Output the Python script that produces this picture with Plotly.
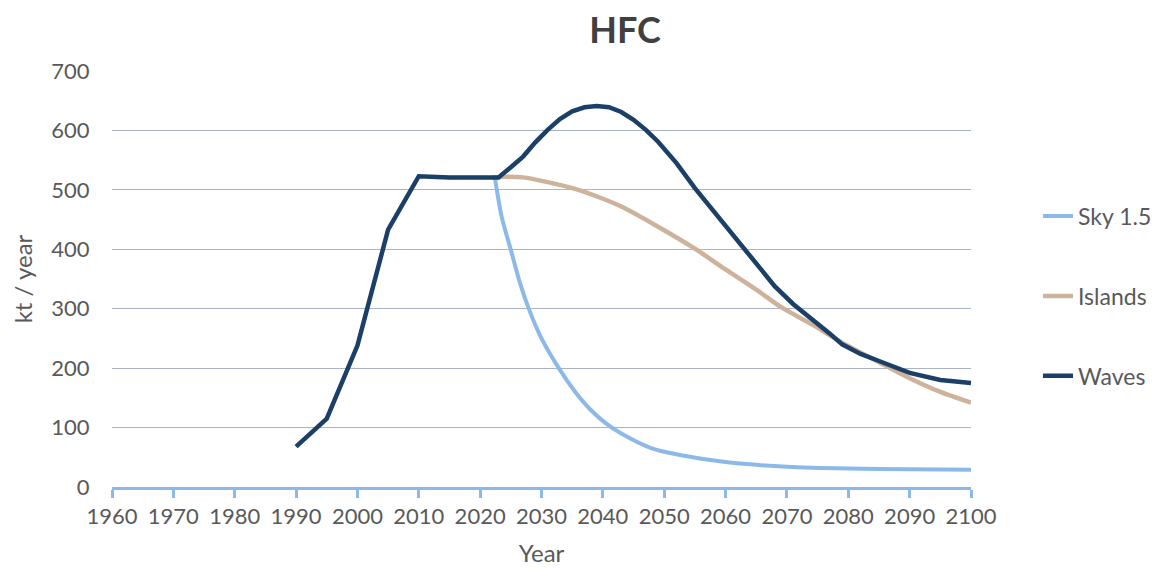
import plotly.graph_objects as go

waves_years = [1990, 1995, 2000, 2005, 2010, 2015, 2020, 2023, 2025, 2027, 2029, 2031, 2033, 2035, 2037, 2039, 2041,
               2043, 2045, 2047, 2049, 2052, 2055, 2059, 2063, 2066, 2068, 2071, 2074, 2077, 2079, 2082, 2085,
               2088, 2090, 2095, 2100]
waves_vals = [68, 115, 238, 433, 523, 521, 521, 521, 538, 556, 580, 601, 619, 632, 639, 641, 639,
              631, 618, 601, 581, 545, 503, 452, 400, 362, 338, 308, 284, 258, 240, 224, 212,
              200, 192, 180, 175]

islands_years = [2022, 2024, 2027, 2031, 2036, 2040, 2043, 2049, 2055, 2060, 2065, 2069, 2074, 2079, 2085,
                 2090, 2095, 2100]
islands_vals = [521, 522, 521, 513, 500, 485, 472, 438, 401, 366, 332, 303, 274, 243, 210,
                183, 160, 142]

sky_years = [2022.4, 2023.5, 2025, 2026.5, 2028, 2030, 2033, 2035.5, 2038, 2040.5, 2043, 2048, 2053, 2060,
             2070, 2080, 2090, 2100]
sky_vals = [521, 455, 399, 343, 298, 250, 197, 160, 130, 107, 90, 65, 53, 42,
            34, 31, 30, 29]

x_ticks = list(range(1960, 2101, 10))

font_family = "Lato, 'Noto Sans', sans-serif"
text_color = "#595959"

fig = go.Figure()
fig.add_trace(go.Scatter(x=sky_years, y=sky_vals, mode="lines", name="Sky 1.5",
                         line=dict(color="#8DB9E8", width=4, shape="spline", smoothing=0.8),
                         legendgroup="a"))
fig.add_trace(go.Scatter(x=islands_years, y=islands_vals, mode="lines", name="Islands",
                         line=dict(color="#CDB39C", width=4.5, shape="spline", smoothing=0.8),
                         legendgroup="b"))
fig.add_trace(go.Scatter(x=waves_years, y=waves_vals, mode="lines", name="Waves",
                         line=dict(color="#1B3F66", width=4.5), legendgroup="c"))

fig.update_layout(
    width=1165, height=563,
    paper_bgcolor="white", plot_bgcolor="white",
    margin=dict(l=104, r=202, t=63, b=84),
    title=dict(text="<b>HFC</b>", x=(625 - 8) / 1165, xanchor="center", xref="container",
               y=1 - 22 / 563, yref="container", yanchor="middle",
               font=dict(family=font_family, size=36, color="#404040")),
    font=dict(family=font_family, size=22, color=text_color),
    legend=dict(x=1.078, xanchor="left", y=0.459, yanchor="middle", traceorder="grouped",
                tracegroupgap=47, font=dict(size=23, color=text_color),
                bgcolor="rgba(0,0,0,0)"),
    showlegend=True,
)
fig.update_xaxes(
    range=[1960, 2100], tickvals=x_ticks, ticktext=[str(t) for t in x_ticks],
    showgrid=False, zeroline=False, showline=True, linecolor="#8DB9E8", linewidth=2.5,
    ticks="outside", tickcolor="#8DB9E8", tickwidth=2.5, ticklen=8, automargin=False,
    title=dict(text="Year", font=dict(size=24, color=text_color), standoff=18),
    tickfont=dict(size=22, color=text_color),
)
fig.update_yaxes(
    range=[0, 700], dtick=100, showgrid=True, gridcolor="#A9B5C6", gridwidth=1.2,
    zeroline=False, showline=False, automargin=False,
    ticks="outside", ticklen=17, tickcolor="rgba(0,0,0,0)",
    title=dict(text="kt / year", font=dict(size=24, color=text_color), standoff=16),
    tickfont=dict(size=22, color=text_color),
)

fig.write_html("out.html")
